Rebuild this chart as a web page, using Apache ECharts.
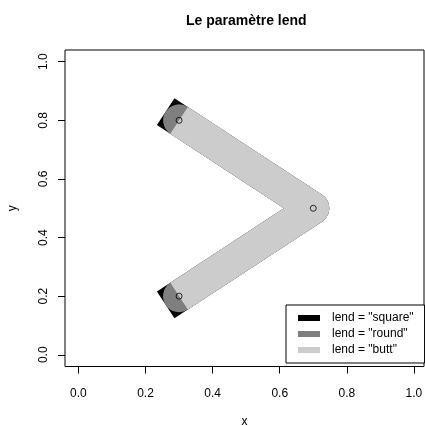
<!DOCTYPE html>
<html lang="fr">
<head>
    <meta charset="UTF-8">
    <title>Le paramètre lend</title>
    <style>
        body { margin: 0; background: #fff; }
        #chart { width: 425px; height: 426px; }
    </style>
    <script src="https://cdn.jsdelivr.net/npm/echarts/dist/echarts.min.js"></script>
</head>
<body>
<div id="chart"></div>
<script>
    // polyline vertices
    const xs = [0.3, 0.7, 0.3];
    const ys = [0.8, 0.5, 0.2];
    // one line per end style, drawn in this order
    const capStyles = ['square', 'round', 'butt'];
    const lineColors = ['#000000', '#7f7f7f', '#cccccc'];
    const legendLabels = ['lend = "square"', 'lend = "round"', 'lend = "butt"'];
    // axis ticks
    const xTicks = [0, 0.2, 0.4, 0.6, 0.8, 1.0];
    const yTicks = [0, 0.2, 0.4, 0.6, 0.8, 1.0];

    const font = "'Liberation Sans', Arial, sans-serif";
    const pts = xs.map((x, i) => [x, ys[i]]);

    const lineSeries = capStyles.map((cap, i) => ({
        name: legendLabels[i],
        type: 'line',
        data: pts,
        color: lineColors[i],
        showSymbol: false,
        symbol: 'none',
        lineStyle: { width: 32, color: lineColors[i], cap: cap, join: 'round' },
        emphasis: { disabled: true },
        silent: true
    }));

    const chart = echarts.init(document.getElementById('chart'));
    chart.setOption({
        animation: false,
        textStyle: { fontFamily: font },
        title: {
            text: 'Le paramètre lend',
            left: 181, top: 9,
            textStyle: { fontSize: 14, fontWeight: 'bold', color: '#000', fontFamily: font }
        },
        legend: {
            data: legendLabels,
            orient: 'vertical',
            left: 286, top: 305,
            icon: 'rect',
            itemWidth: 22, itemHeight: 6,
            itemGap: 2,
            padding: [6, 11, 6, 12],
            borderColor: '#000', borderWidth: 1,
            backgroundColor: '#fff',
            selectedMode: false,
            textStyle: { fontSize: 12, color: '#000', lineHeight: 14, padding: [0, 0, 0, 7], fontFamily: font }
        },
        grid: {
            left: 65, top: 50, right: 1, bottom: 59.5,
            outerBoundsMode: 'none',
            containLabel: false,
            show: true, borderColor: '#000', borderWidth: 1, backgroundColor: 'transparent'
        },
        xAxis: {
            type: 'value', min: -0.04, max: 1.03,
            name: 'x', nameLocation: 'middle', nameGap: 49,
            nameTextStyle: { fontSize: 12, color: '#000' },
            axisLine: { show: false, onZero: false },
            splitLine: { show: false },
            axisTick: { show: true, inside: false, length: 7, lineStyle: { color: '#000' }, customValues: xTicks },
            axisLabel: { fontSize: 12, color: '#000', margin: 21, customValues: xTicks, formatter: v => v.toFixed(1) }
        },
        yAxis: {
            type: 'value', min: -0.04, max: 1.04,
            name: 'y', nameLocation: 'middle', nameGap: 46,
            nameTextStyle: { fontSize: 12, color: '#000' },
            axisLine: { show: false, onZero: false },
            splitLine: { show: false },
            axisTick: { show: true, inside: false, length: 7, lineStyle: { color: '#000' }, customValues: yTicks },
            axisLabel: { fontSize: 12, color: '#000', margin: 15, rotate: 90, customValues: yTicks, formatter: v => v.toFixed(1) }
        },
        series: lineSeries.concat([{
            type: 'scatter',
            data: pts,
            symbol: 'circle',
            symbolSize: 6,
            itemStyle: { color: 'transparent', borderColor: '#000', borderWidth: 1 },
            emphasis: { disabled: true },
            silent: true,
            z: 5
        }])
    });
</script>
</body>
</html>
